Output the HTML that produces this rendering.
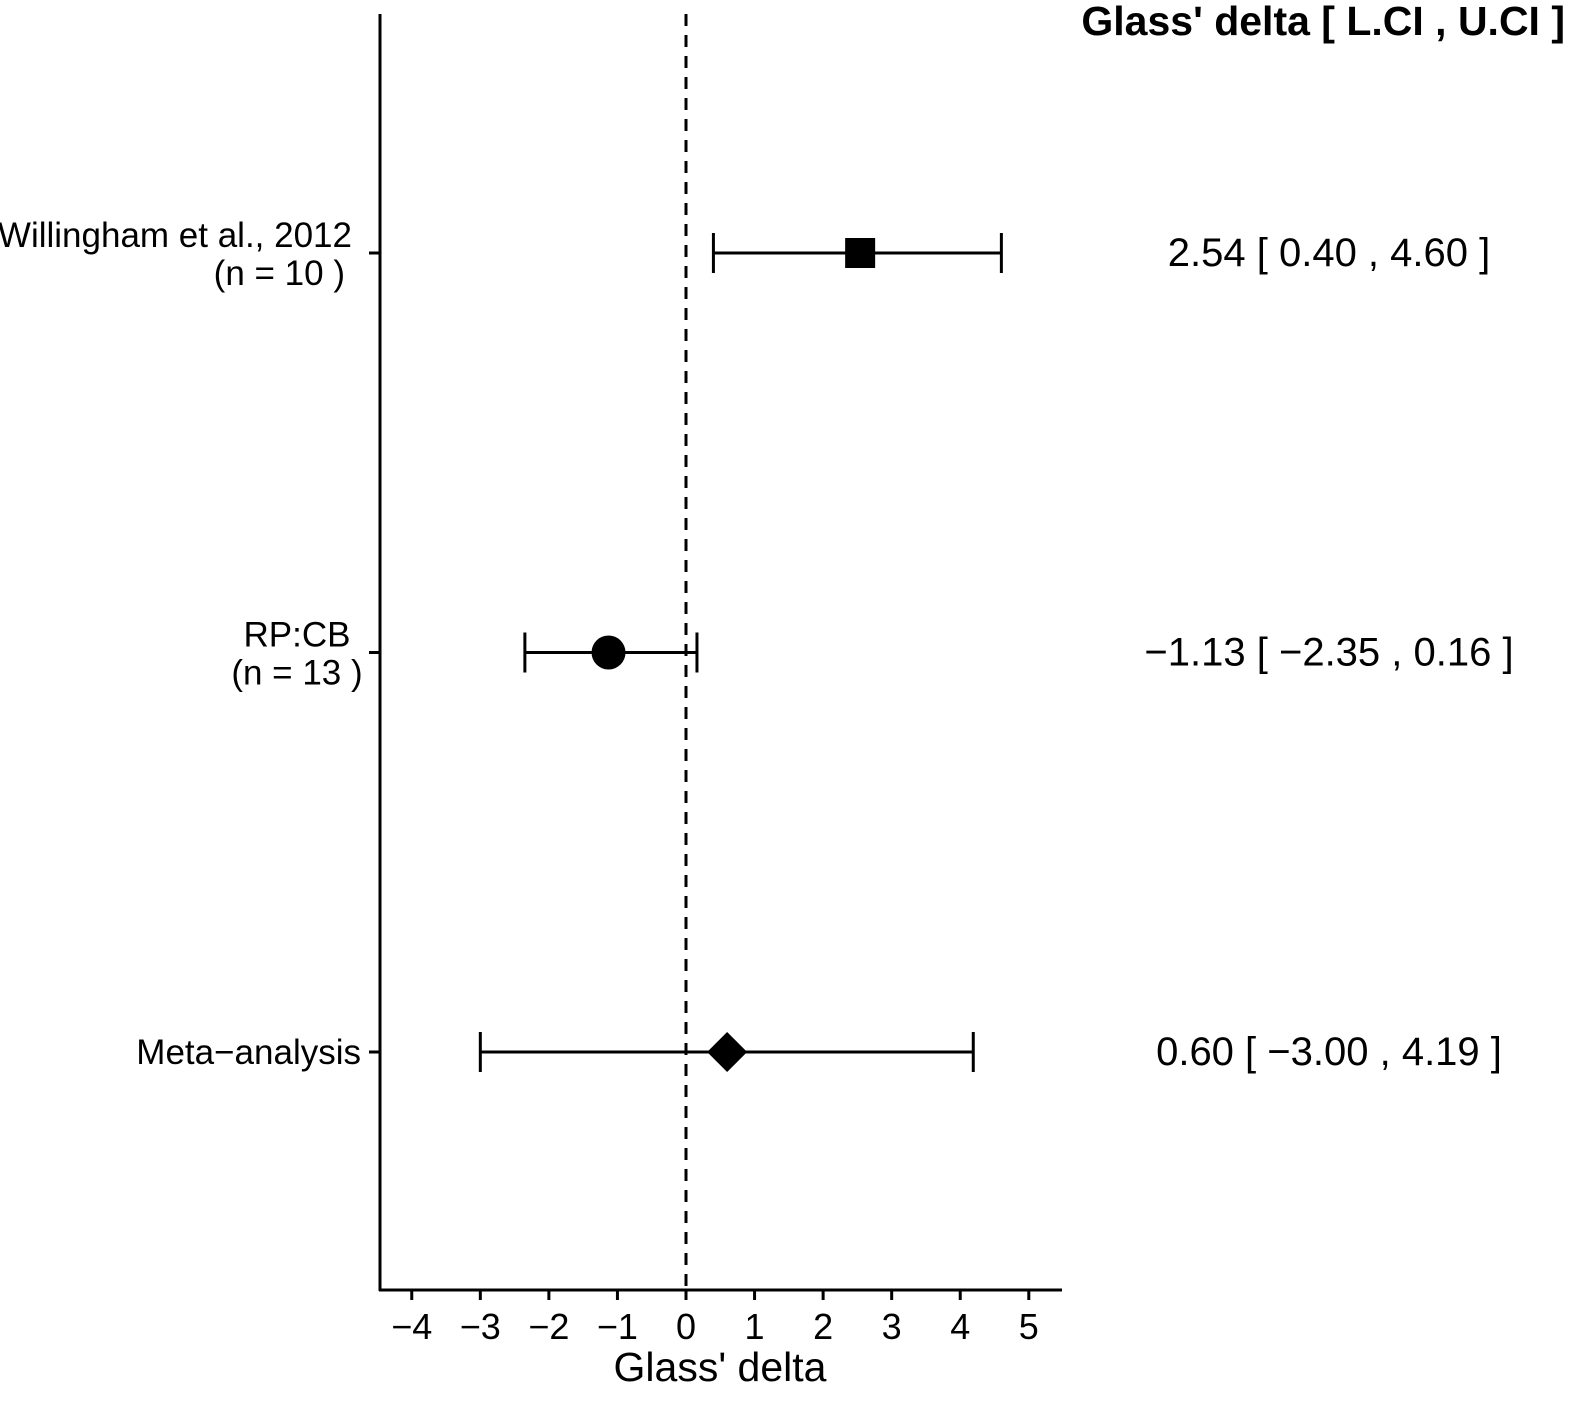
<!DOCTYPE html>
<html><head><meta charset="utf-8"><style>
body{margin:0;background:#fff}
svg{display:block;font-family:"Liberation Sans",Arial,sans-serif}
</style></head><body>
<svg id="chart" width="1583" height="1407" viewBox="0 0 1583 1407">
<g id="g"></g>
</svg>
<script>
const studies = ["Willingham et al., 2012|(n = 10 )", "RP:CB|(n = 13 )", "Meta\u2212analysis"];
const estimates = [2.54, -1.13, 0.60];
const lower = [0.40, -2.35, -3.00];
const upper = [4.60, 0.16, 4.19];
const shapes = ["square", "circle", "diamond"];
const xTicks = [-4, -3, -2, -1, 0, 1, 2, 3, 4, 5];

const NS = "http://www.w3.org/2000/svg";
const g = document.getElementById("g");
const x = v => 686 + v * 68.56;
const rowY = i => 253 + i * 399.5;
const fmt = v => (v < 0 ? "\u2212" : "") + Math.abs(v).toFixed(2);
function el(tag, attrs, parent) {
  const e = document.createElementNS(NS, tag);
  for (const k in attrs) e.setAttribute(k, attrs[k]);
  (parent || g).appendChild(e);
  return e;
}
const SW = 3;
let a = el("line", {x1: 380, y1: 14, x2: 380, y2: 1291, stroke: "#000", "stroke-width": SW});


a = el("line", {x1: 379, y1: 1290, x2: 1062, y2: 1290, stroke: "#000", "stroke-width": SW});


a = el("line", {x1: x(0), y1: 14, x2: x(0), y2: 1290, stroke: "#000", "stroke-width": SW, "stroke-dasharray": "12,9"});


xTicks.forEach(t => {
  const tk = el("line", {x1: x(t), y1: 1290, x2: x(t), y2: 1300, stroke: "#000", "stroke-width": SW});
  
  
  const tl = el("text", {x: x(t), y: 1339, "text-anchor": "middle", "font-size": 36, fill: "#000"});
  tl.textContent = t < 0 ? "\u2212" + Math.abs(t) : String(t);
  
  
});
a = el("text", {x: 720, y: 1381, "text-anchor": "middle", "font-size": 41, fill: "#000"});
a.textContent = "Glass' delta";


a = el("text", {x: 1565, y: 35, "text-anchor": "end", "font-size": 41, "font-weight": "bold", fill: "#000"});
a.textContent = "Glass' delta [ L.CI , U.CI ]";



studies.forEach((s, i) => {
  const y = rowY(i);
  const tk = el("line", {x1: 369, y1: y, x2: 380, y2: y, stroke: "#000", "stroke-width": SW});
  
  
  const lines = s.split("|");
  const lab = el("text", {"text-anchor": "end", "font-size": 35, fill: "#000"});
  
  
  if (lines.length === 1) {
    lab.setAttribute("x", 361); lab.setAttribute("y", y + 12);
    lab.textContent = lines[0];
  } else if (i === 0) {
    const t1 = el("tspan", {x: 352, y: y - 6}, lab); t1.textContent = lines[0];
    const t2 = el("tspan", {x: 345, y: y + 32}, lab); t2.textContent = lines[1];
  } else {
    lab.setAttribute("text-anchor", "middle");
    const t1 = el("tspan", {x: 297, y: y - 6}, lab); t1.textContent = lines[0];
    const t2 = el("tspan", {x: 297, y: y + 32}, lab); t2.textContent = lines[1];
  }
  const ci = el("g", {});
  
  
  el("line", {x1: x(lower[i]), y1: y, x2: x(upper[i]), y2: y, stroke: "#000", "stroke-width": SW}, ci);
  el("line", {x1: x(lower[i]), y1: y - 20, x2: x(lower[i]), y2: y + 20, stroke: "#000", "stroke-width": SW}, ci);
  el("line", {x1: x(upper[i]), y1: y - 20, x2: x(upper[i]), y2: y + 20, stroke: "#000", "stroke-width": SW}, ci);
  const cx = x(estimates[i]);
  let m;
  if (shapes[i] === "square") m = el("rect", {x: cx - 15, y: y - 15, width: 30, height: 30, fill: "#000"});
  else if (shapes[i] === "circle") m = el("circle", {cx: cx, cy: y, r: 17, fill: "#000"});
  else m = el("polygon", {points: `${cx},${y-20} ${cx+20},${y} ${cx},${y+20} ${cx-20},${y}`, fill: "#000"});
  
  
  const vt = el("text", {x: 1329, y: y + 13, "text-anchor": "middle", "font-size": 40, fill: "#000"});
  vt.textContent = `${fmt(estimates[i])} [ ${fmt(lower[i])} , ${fmt(upper[i])} ]`;
  
  
});
</script>
</body></html>
